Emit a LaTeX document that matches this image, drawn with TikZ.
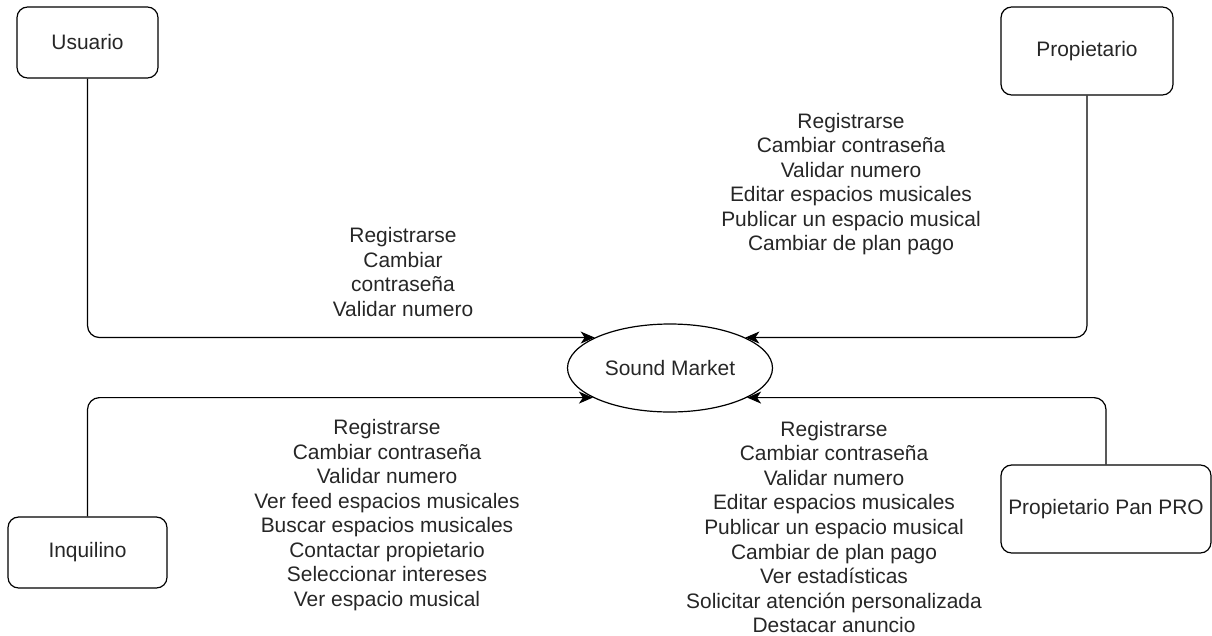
\documentclass[tikz,border=0pt]{standalone}
\usepackage{fontspec}
\setmainfont{Liberation Sans}
\usetikzlibrary{arrows.meta,shapes.geometric}

\newcommand\diafont{\fontsize{15.7pt}{18.4pt}\selectfont\color{black!85}}

\begin{document}
\begin{tikzpicture}[
  x=0.75pt, y=-0.75pt,
  actor/.style={draw, rounded corners=8pt, line width=0.9pt, align=center,
                inner sep=0pt, font=\diafont},
  system/.style={draw, ellipse, line width=0.9pt, minimum width=153.75pt,
                 minimum height=66pt, inner sep=0pt, font=\diafont},
  usecases/.style={align=center, inner sep=0pt, font=\diafont},
  arrow/.style={-{Stealth[length=10.5pt, width=9pt, inset=3pt]}, line width=0.9pt,
                rounded corners=9pt}
]
\useasboundingbox (0,0) rectangle (1212,635);

\node[system] (market) at (670,368) {Sound Market};

\node[actor, minimum width=105.75pt, minimum height=53.25pt] (usuario) at (87.5,42.5) {Usuario};
\node[actor, minimum width=129pt, minimum height=66pt] (propietario) at (1087,51) {Propietario};
\node[actor, minimum width=119.25pt, minimum height=53.25pt] (inquilino) at (87.5,552.5) {Inquilino};
\node[actor, minimum width=157.5pt, minimum height=66pt] (pro) at (1106,509) {Propietario Pan PRO};

% lists of use cases
\node[usecases] (usuariocases) at (403,272) {Registrarse\\Cambiar\\contraseña\\Validar numero};
\node[usecases] (propcases) at (851,184) {Registrarse\\Cambiar contraseña\\Validar numero\\Editar espacios musicales\\Publicar un espacio musical\\Cambiar de plan pago};
\node[usecases] (inqcases) at (387,515) {Registrarse\\Cambiar contraseña\\Validar numero\\Ver feed espacios musicales\\Buscar espacios musicales\\Contactar propietario\\Seleccionar intereses\\Ver espacio musical};
\node[usecases] (procases) at (834,527) {Registrarse\\Cambiar contraseña\\Validar numero\\Editar espacios musicales\\Publicar un espacio musical\\Cambiar de plan pago\\Ver estadísticas\\Solicitar atención personalizada\\Destacar anuncio};

\draw[arrow] (usuario.south) |- (market.158);
\draw[arrow] (propietario.south) |- (market.22);
\draw[arrow] (inquilino.north) |- (market.201);
\draw[arrow] (pro.north) |- (market.339);
\end{tikzpicture}
\end{document}
